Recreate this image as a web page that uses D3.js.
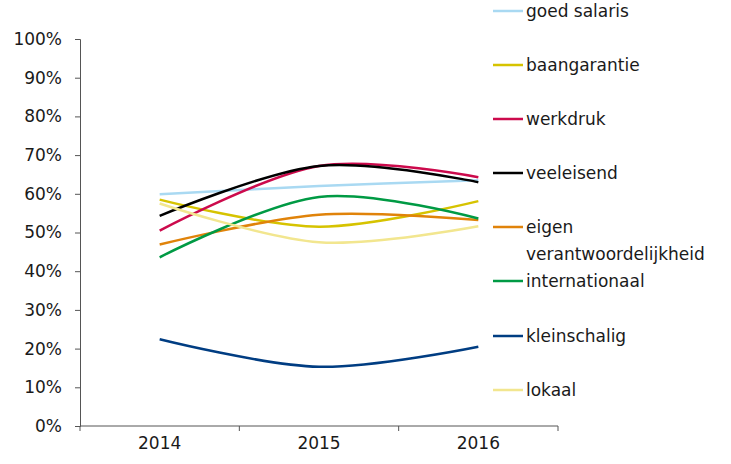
<!DOCTYPE html>
<html>
<head>
<meta charset="utf-8">
<script src="https://cdn.jsdelivr.net/npm/d3@7"></script>
<style>
  body { margin: 0; background: #fff; }
  text { font-family: "DejaVu Sans", sans-serif; fill: #1a1a1a; }
</style>
</head>
<body>
<div id="chart"></div>
<script>
// jaren op de x-as
var years = ["2014", "2015", "2016"];
var yTicks = [0, 10, 20, 30, 40, 50, 60, 70, 80, 90, 100];

// reeksen (percentages)
var names = ["goed salaris", "baangarantie", "werkdruk", "veeleisend",
             "eigen verantwoordelijkheid", "internationaal", "kleinschalig", "lokaal"];
var goedSalaris   = [59.9, 62.0, 63.5];
var baangarantie  = [58.5, 51.5, 58.1];
var werkdruk      = [50.5, 67.2, 64.3];
var veeleisend    = [54.3, 67.2, 63.0];
var eigenVerantw  = [46.9, 54.6, 53.2];
var internationaal = [43.6, 59.2, 53.6];
var kleinschalig  = [22.4, 15.3, 20.5];
var lokaal        = [57.5, 47.5, 51.6];
var colors = ["#a9d9f2", "#d6c300", "#cc0a4c", "#000000",
              "#e0830a", "#009a44", "#003d82", "#f2e68f"];

var series = [goedSalaris, baangarantie, werkdruk, veeleisend,
              eigenVerantw, internationaal, kleinschalig, lokaal];

var width = 731, height = 464;
var margin = {left: 80, top: 39, right: 173, bottom: 38};

var svg = d3.select("#chart").append("svg")
    .attr("width", width).attr("height", height);

var x = d3.scaleBand().domain(years).range([margin.left, width - margin.right]);
var y = d3.scaleLinear().domain([0, 100]).range([height - margin.bottom, margin.top]);

// y-as
var yAxis = svg.append("g")
    .attr("transform", "translate(" + margin.left + ",0)")
    .call(d3.axisLeft(y).tickValues(yTicks).tickSize(5).tickPadding(13)
          .tickFormat(function(d){ return d + "%"; }));
yAxis.selectAll("text").style("font-size", "17px");

// x-as
var xAxis = svg.append("g")
    .attr("transform", "translate(0," + y(0) + ")")
    .call(d3.axisBottom(x).tickSize(0).tickPadding(11));
xAxis.selectAll("text").style("font-size", "17px");
// scheidingsstreepjes tussen categorieën
var bounds = years.map(function(d){ return x(d); }).concat([x(years[2]) + x.bandwidth()]);
xAxis.selectAll(".sep").data(bounds).enter().append("line")
    .attr("x1", function(d){ return d; }).attr("x2", function(d){ return d; })
    .attr("y1", 0).attr("y2", 5).attr("stroke", "#555");

svg.selectAll(".domain, .tick line").attr("stroke", "#555");
xAxis.select(".domain").attr("d", "M" + margin.left + ",0H" + (x(years[2]) + x.bandwidth()));

var line = d3.line()
    .x(function(d, i){ return x(years[i]) + x.bandwidth() / 2; })
    .y(function(d){ return y(d); })
    .curve(d3.curveCardinal.tension(0));

svg.selectAll(".serie").data(series).enter().append("path")
    .attr("fill", "none")
    .attr("stroke", function(d, i){ return colors[i]; })
    .attr("stroke-width", 2.5)
    .attr("d", line);

// legenda
var legY = [11, 65, 119, 173, 227, 281, 336, 390];
var leg = svg.selectAll(".leg").data(names).enter().append("g")
    .attr("transform", function(d, i){ return "translate(493," + legY[i] + ")"; });
leg.append("line").attr("x1", 0).attr("x2", 30).attr("y1", 0).attr("y2", 0)
    .attr("stroke", function(d, i){ return colors[i]; }).attr("stroke-width", 2.5);
leg.append("text").attr("x", 33).attr("dy", "0.35em").style("font-size", "17px")
    .each(function(d){
        var t = d3.select(this);
        if (d === "eigen verantwoordelijkheid") {
            t.append("tspan").attr("x", 33).text("eigen");
            t.append("tspan").attr("x", 33).attr("dy", "1.6em").text("verantwoordelijkheid");
        } else {
            t.text(d);
        }
    });
</script>
</body>
</html>
